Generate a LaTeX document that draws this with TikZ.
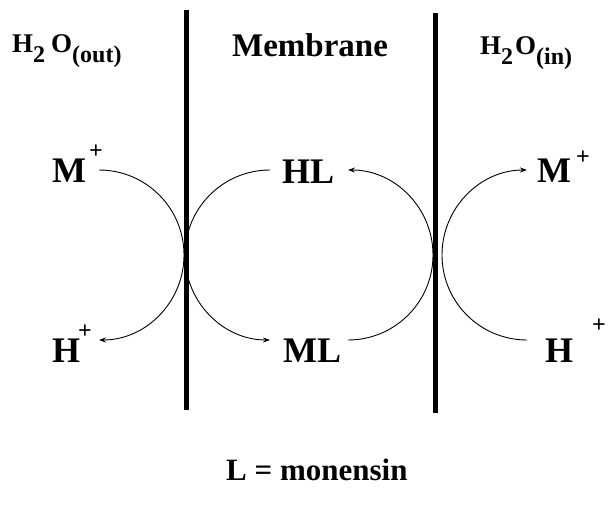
\documentclass[tikz,border=0pt]{standalone}
\usepackage{fontspec}
\setmainfont{Liberation Serif}
\usetikzlibrary{arrows.meta}
\begin{document}
\begin{tikzpicture}[x=1pt,y=1pt,
  big/.style={font=\fontsize{36}{38}\selectfont\bfseries, inner sep=0pt, anchor=base west},
  plus/.style={font=\fontsize{24}{26}\selectfont\bfseries, inner sep=0pt},
  hdr/.style={font=\fontsize{27}{30}\selectfont\bfseries, inner sep=0pt, anchor=base west},
  membar/.style={line width=5pt},
  flow/.style={line width=0.9pt},
  tip/.style={-{Stealth[length=7pt,width=5pt]}}
]
\useasboundingbox[fill=white] (0,0) rectangle (608,507);
\newcommand{\subtx}[2]{\raisebox{-#1pt}{\fontsize{24}{26}\selectfont #2}}
% membranes
\coordinate (b1t) at (186,497); \coordinate (b1b) at (186,97);
\coordinate (b2t) at (435.5,494); \coordinate (b2b) at (435.5,94);
\draw[membar] (b1t) -- (b1b);
\draw[membar] (b2t) -- (b2b);
% headers
\node[hdr] (wout) at (12,454) {H\subtx{10}{2}\hspace{6pt}O\subtx{10}{(out)}};
\node[hdr, anchor=base, font=\fontsize{33}{35}\selectfont\bfseries] (mem) at (310,450) {Membrane};
\node[hdr] (win) at (480,452) {H\subtx{10}{2}\hspace{2pt}O\subtx{10}{(in)}};
% species
\node[big] (mL) at (52,324) {M};
\node[plus] (mLp) at (96,355) {+};
\node[big] (hl) at (282,323) {HL};
\node[big] (mR) at (537,324) {M};
\node[plus] (mRp) at (583,349) {+};
\node[big] (hL) at (52,145) {H};
\node[plus] (hLp) at (85,175) {+};
\node[big] (ml) at (283,145) {ML};
\node[big] (hR) at (545,145) {H};
\node[plus] (hRp) at (599,181) {+};
\node[font=\fontsize{31}{33}\selectfont\bfseries, inner sep=0pt, anchor=base west] (lm) at (226,27) {L = monensin};
% arc end points
\coordinate (a1s) at (99,337); \coordinate (a1e) at (99,167);
\coordinate (a2s) at (270,337); \coordinate (a2e) at (270,167);
\coordinate (a3s) at (348,167); \coordinate (a3e) at (348,337);
\coordinate (a4s) at (527,167); \coordinate (a4e) at (527,337);
\draw[flow,tip] (a1s) arc[start angle=90, end angle=-90, radius=85];
\draw[flow,tip] (a2s) arc[start angle=90, end angle=270, radius=85];
\draw[flow,tip] (a3s) arc[start angle=-90, end angle=90, radius=85];
\draw[flow,tip] (a4s) arc[start angle=270, end angle=90, radius=85];
\end{tikzpicture}
\end{document}
